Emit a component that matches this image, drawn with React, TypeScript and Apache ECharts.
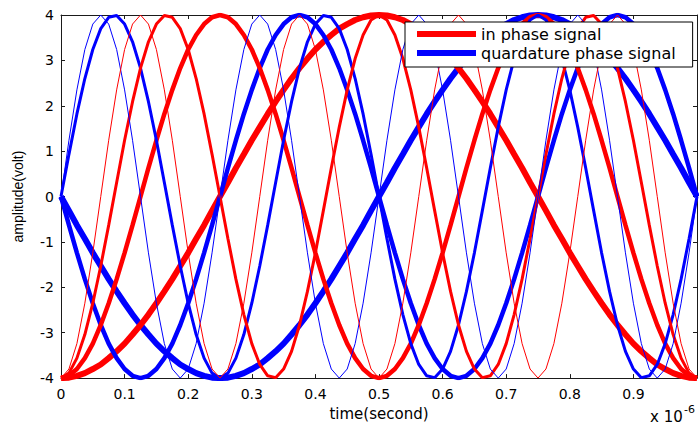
import React, { useEffect, useRef } from "react";
import * as echarts from "echarts";

// Sample instants, in microseconds (axis is scaled by 10^-6)
const time = [
  0, 0.0125, 0.025, 0.0375, 0.05, 0.0625, 0.075, 0.0875, 0.1, 0.1125,
  0.125, 0.1375, 0.15, 0.1625, 0.175, 0.1875, 0.2, 0.2125, 0.225, 0.2375,
  0.25, 0.2625, 0.275, 0.2875, 0.3, 0.3125, 0.325, 0.3375, 0.35, 0.3625,
  0.375, 0.3875, 0.4, 0.4125, 0.425, 0.4375, 0.45, 0.4625, 0.475, 0.4875,
  0.5, 0.5125, 0.525, 0.5375, 0.55, 0.5625, 0.575, 0.5875, 0.6, 0.6125,
  0.625, 0.6375, 0.65, 0.6625, 0.675, 0.6875, 0.7, 0.7125, 0.725, 0.7375,
  0.75, 0.7625, 0.775, 0.7875, 0.8, 0.8125, 0.825, 0.8375, 0.85, 0.8625,
  0.875, 0.8875, 0.9, 0.9125, 0.925, 0.9375, 0.95, 0.9625, 0.975, 0.9875,
  1,
];

// In-phase carriers (volts), 1 to 4 cycles across the window
const inPhase1 = [
  -4, -3.99, -3.95, -3.89, -3.8, -3.7, -3.56, -3.41, -3.24, -3.04,
  -2.83, -2.6, -2.35, -2.09, -1.82, -1.53, -1.24, -0.93, -0.63, -0.31,
  0, 0.31, 0.63, 0.93, 1.24, 1.53, 1.82, 2.09, 2.35, 2.6,
  2.83, 3.04, 3.24, 3.41, 3.56, 3.7, 3.8, 3.89, 3.95, 3.99,
  4, 3.99, 3.95, 3.89, 3.8, 3.7, 3.56, 3.41, 3.24, 3.04,
  2.83, 2.6, 2.35, 2.09, 1.82, 1.53, 1.24, 0.93, 0.63, 0.31,
  0, -0.31, -0.63, -0.93, -1.24, -1.53, -1.82, -2.09, -2.35, -2.6,
  -2.83, -3.04, -3.24, -3.41, -3.56, -3.7, -3.8, -3.89, -3.95, -3.99,
  -4,
];
const inPhase2 = [
  -4, -3.95, -3.8, -3.56, -3.24, -2.83, -2.35, -1.82, -1.24, -0.63,
  0, 0.63, 1.24, 1.82, 2.35, 2.83, 3.24, 3.56, 3.8, 3.95,
  4, 3.95, 3.8, 3.56, 3.24, 2.83, 2.35, 1.82, 1.24, 0.63,
  0, -0.63, -1.24, -1.82, -2.35, -2.83, -3.24, -3.56, -3.8, -3.95,
  -4, -3.95, -3.8, -3.56, -3.24, -2.83, -2.35, -1.82, -1.24, -0.63,
  0, 0.63, 1.24, 1.82, 2.35, 2.83, 3.24, 3.56, 3.8, 3.95,
  4, 3.95, 3.8, 3.56, 3.24, 2.83, 2.35, 1.82, 1.24, 0.63,
  0, -0.63, -1.24, -1.82, -2.35, -2.83, -3.24, -3.56, -3.8, -3.95,
  -4,
];
const inPhase3 = [
  -4, -3.89, -3.56, -3.04, -2.35, -1.53, -0.63, 0.31, 1.24, 2.09,
  2.83, 3.41, 3.8, 3.99, 3.95, 3.7, 3.24, 2.6, 1.82, 0.93,
  0, -0.93, -1.82, -2.6, -3.24, -3.7, -3.95, -3.99, -3.8, -3.41,
  -2.83, -2.09, -1.24, -0.31, 0.63, 1.53, 2.35, 3.04, 3.56, 3.89,
  4, 3.89, 3.56, 3.04, 2.35, 1.53, 0.63, -0.31, -1.24, -2.09,
  -2.83, -3.41, -3.8, -3.99, -3.95, -3.7, -3.24, -2.6, -1.82, -0.93,
  0, 0.93, 1.82, 2.6, 3.24, 3.7, 3.95, 3.99, 3.8, 3.41,
  2.83, 2.09, 1.24, 0.31, -0.63, -1.53, -2.35, -3.04, -3.56, -3.89,
  -4,
];
const inPhase4 = [
  -4, -3.8, -3.24, -2.35, -1.24, 0, 1.24, 2.35, 3.24, 3.8,
  4, 3.8, 3.24, 2.35, 1.24, 0, -1.24, -2.35, -3.24, -3.8,
  -4, -3.8, -3.24, -2.35, -1.24, 0, 1.24, 2.35, 3.24, 3.8,
  4, 3.8, 3.24, 2.35, 1.24, 0, -1.24, -2.35, -3.24, -3.8,
  -4, -3.8, -3.24, -2.35, -1.24, 0, 1.24, 2.35, 3.24, 3.8,
  4, 3.8, 3.24, 2.35, 1.24, 0, -1.24, -2.35, -3.24, -3.8,
  -4, -3.8, -3.24, -2.35, -1.24, 0, 1.24, 2.35, 3.24, 3.8,
  4, 3.8, 3.24, 2.35, 1.24, 0, -1.24, -2.35, -3.24, -3.8,
  -4,
];

// Quadrature carriers (volts)
const quad1 = [
  0, -0.31, -0.63, -0.93, -1.24, -1.53, -1.82, -2.09, -2.35, -2.6,
  -2.83, -3.04, -3.24, -3.41, -3.56, -3.7, -3.8, -3.89, -3.95, -3.99,
  -4, -3.99, -3.95, -3.89, -3.8, -3.7, -3.56, -3.41, -3.24, -3.04,
  -2.83, -2.6, -2.35, -2.09, -1.82, -1.53, -1.24, -0.93, -0.63, -0.31,
  0, 0.31, 0.63, 0.93, 1.24, 1.53, 1.82, 2.09, 2.35, 2.6,
  2.83, 3.04, 3.24, 3.41, 3.56, 3.7, 3.8, 3.89, 3.95, 3.99,
  4, 3.99, 3.95, 3.89, 3.8, 3.7, 3.56, 3.41, 3.24, 3.04,
  2.83, 2.6, 2.35, 2.09, 1.82, 1.53, 1.24, 0.93, 0.63, 0.31,
  0,
];
const quad2 = [
  0, -0.63, -1.24, -1.82, -2.35, -2.83, -3.24, -3.56, -3.8, -3.95,
  -4, -3.95, -3.8, -3.56, -3.24, -2.83, -2.35, -1.82, -1.24, -0.63,
  0, 0.63, 1.24, 1.82, 2.35, 2.83, 3.24, 3.56, 3.8, 3.95,
  4, 3.95, 3.8, 3.56, 3.24, 2.83, 2.35, 1.82, 1.24, 0.63,
  0, -0.63, -1.24, -1.82, -2.35, -2.83, -3.24, -3.56, -3.8, -3.95,
  -4, -3.95, -3.8, -3.56, -3.24, -2.83, -2.35, -1.82, -1.24, -0.63,
  0, 0.63, 1.24, 1.82, 2.35, 2.83, 3.24, 3.56, 3.8, 3.95,
  4, 3.95, 3.8, 3.56, 3.24, 2.83, 2.35, 1.82, 1.24, 0.63,
  0,
];
const quad3 = [
  0, 0.93, 1.82, 2.6, 3.24, 3.7, 3.95, 3.99, 3.8, 3.41,
  2.83, 2.09, 1.24, 0.31, -0.63, -1.53, -2.35, -3.04, -3.56, -3.89,
  -4, -3.89, -3.56, -3.04, -2.35, -1.53, -0.63, 0.31, 1.24, 2.09,
  2.83, 3.41, 3.8, 3.99, 3.95, 3.7, 3.24, 2.6, 1.82, 0.93,
  0, -0.93, -1.82, -2.6, -3.24, -3.7, -3.95, -3.99, -3.8, -3.41,
  -2.83, -2.09, -1.24, -0.31, 0.63, 1.53, 2.35, 3.04, 3.56, 3.89,
  4, 3.89, 3.56, 3.04, 2.35, 1.53, 0.63, -0.31, -1.24, -2.09,
  -2.83, -3.41, -3.8, -3.99, -3.95, -3.7, -3.24, -2.6, -1.82, -0.93,
  0,
];
const quad4 = [
  0, 1.24, 2.35, 3.24, 3.8, 4, 3.8, 3.24, 2.35, 1.24,
  0, -1.24, -2.35, -3.24, -3.8, -4, -3.8, -3.24, -2.35, -1.24,
  0, 1.24, 2.35, 3.24, 3.8, 4, 3.8, 3.24, 2.35, 1.24,
  0, -1.24, -2.35, -3.24, -3.8, -4, -3.8, -3.24, -2.35, -1.24,
  0, 1.24, 2.35, 3.24, 3.8, 4, 3.8, 3.24, 2.35, 1.24,
  0, -1.24, -2.35, -3.24, -3.8, -4, -3.8, -3.24, -2.35, -1.24,
  0, 1.24, 2.35, 3.24, 3.8, 4, 3.8, 3.24, 2.35, 1.24,
  0, -1.24, -2.35, -3.24, -3.8, -4, -3.8, -3.24, -2.35, -1.24,
  0,
];

const IN_PHASE = "in phase signal";
const QUADRATURE = "quardature phase signal";
const RED = "#ff0000";
const BLUE = "#0000ff";
const AXIS_COLOR = "#1a1a1a";
const TICK_FONT = "DejaVu Sans";

const pairs = (values: number[]) => time.map((t, i) => [t, values[i]]);

// Thicker strokes for the slower carriers
const traces = [
  { name: QUADRATURE, color: BLUE, width: 6, values: quad1 },
  { name: IN_PHASE, color: RED, width: 6, values: inPhase1 },
  { name: QUADRATURE, color: BLUE, width: 4.5, values: quad2 },
  { name: IN_PHASE, color: RED, width: 4.5, values: inPhase2 },
  { name: QUADRATURE, color: BLUE, width: 3, values: quad3 },
  { name: IN_PHASE, color: RED, width: 3, values: inPhase3 },
  { name: QUADRATURE, color: BLUE, width: 1, values: quad4 },
  { name: IN_PHASE, color: RED, width: 1, values: inPhase4 },
];

const frameAxis = (extra: object) => ({
  type: "value",
  axisLine: { show: true, onZero: false, lineStyle: { color: AXIS_COLOR, width: 1 } },
  axisTick: { show: true, inside: true, length: 4, lineStyle: { color: AXIS_COLOR, width: 1 } },
  splitLine: { show: false },
  ...extra,
});

export default function App() {
  const ref = useRef<HTMLDivElement>(null);

  useEffect(() => {
    if (!ref.current) return;
    const chart = echarts.init(ref.current, undefined, { renderer: "svg" });

    chart.setOption({
      animation: false,
      backgroundColor: "#ffffff",
      grid: { left: 61, right: 2, top: 15, bottom: 47 },
      legend: {
        orient: "vertical",
        left: 405,
        top: 22,
        data: [
          { name: IN_PHASE, icon: "rect" },
          { name: QUADRATURE, icon: "rect" },
        ],
        itemWidth: 59,
        itemHeight: 6,
        itemGap: 3,
        padding: [4, 17, 6, 12],
        backgroundColor: "#ffffff",
        borderColor: "#000000",
        borderWidth: 1,
        borderRadius: 0,
        selectedMode: false,
        textStyle: { fontFamily: TICK_FONT, fontSize: 16, color: "#000", lineHeight: 16 },
      },
      xAxis: [
        frameAxis({
          position: "bottom",
          min: 0,
          max: 1,
          interval: 0.1,
          name: "time(second)",
          nameLocation: "middle",
          nameGap: 23,
          nameTextStyle: { fontFamily: TICK_FONT, fontSize: 15, color: "#000" },
          axisLabel: {
            showMaxLabel: false,
            margin: 9,
            fontFamily: TICK_FONT,
            fontSize: 14,
            color: "#000",
          },
        }),
        frameAxis({ position: "top", min: 0, max: 1, interval: 0.1, axisLabel: { show: false } }),
      ],
      yAxis: [
        frameAxis({
          position: "left",
          min: -4,
          max: 4,
          interval: 1,
          name: "amplitude(volt)",
          nameLocation: "middle",
          nameGap: 36,
          nameTextStyle: { fontFamily: "Liberation Sans", fontSize: 14, color: "#000" },
          axisLabel: { margin: 7, fontFamily: TICK_FONT, fontSize: 14, color: "#000" },
        }),
        frameAxis({ position: "right", min: -4, max: 4, interval: 1, axisLabel: { show: false } }),
      ],
      series: traces.map((tr) => ({
        type: "line",
        name: tr.name,
        data: pairs(tr.values),
        showSymbol: false,
        symbol: "none",
        silent: true,
        clip: true,
        lineStyle: { color: tr.color, width: tr.width },
        itemStyle: { color: tr.color },
        emphasis: { disabled: true },
      })),
      // Exponent of the time axis, below its right end
      graphic: [
        {
          type: "text",
          x: 650,
          y: 417,
          style: {
            text: "x 10",
            fontFamily: TICK_FONT,
            fontSize: 15,
            fill: "#000",
            align: "left",
            verticalAlign: "middle",
          },
        },
        {
          type: "text",
          x: 684,
          y: 409,
          style: {
            text: "-6",
            fontFamily: TICK_FONT,
            fontSize: 11,
            fill: "#000",
            align: "left",
            verticalAlign: "middle",
          },
        },
      ],
    });

    return () => chart.dispose();
  }, []);

  return (
    <div
      ref={ref}
      style={{ position: "fixed", left: 0, top: 0, width: 699, height: 426, background: "#fff" }}
    />
  );
}
